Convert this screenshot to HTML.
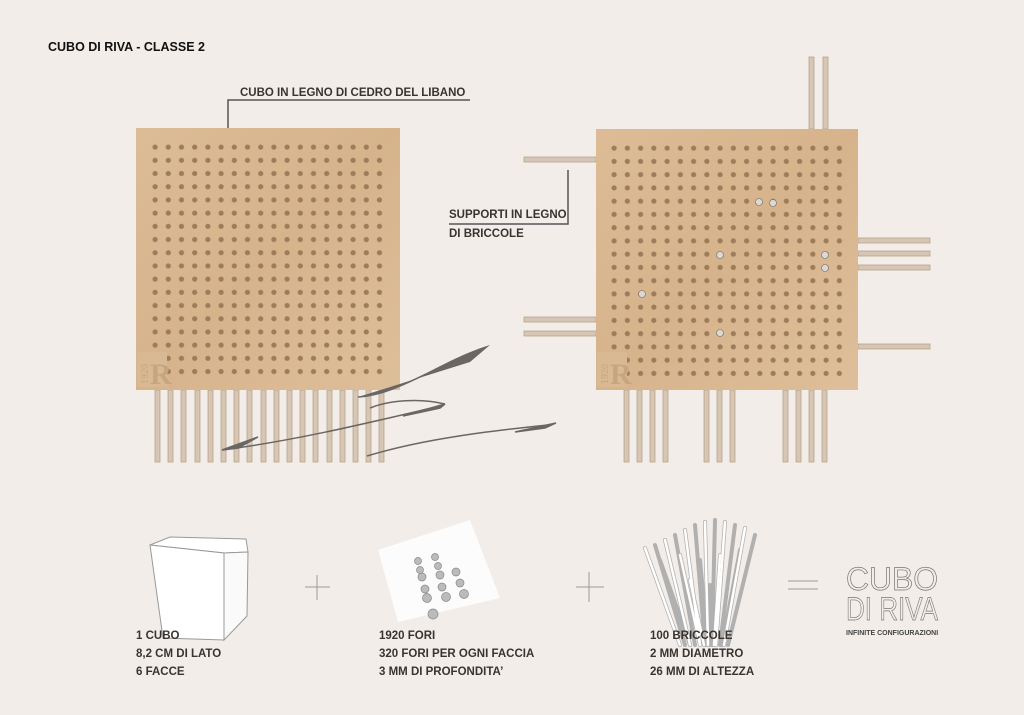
<!DOCTYPE html>
<html><head><meta charset="utf-8"><style>
body{margin:0;background:#f2ede8;}
svg{display:block;font-family:"Liberation Sans",sans-serif;}
.t{font-weight:bold;font-size:11.5px;fill:#3a3430;font-family:"Liberation Sans Narrow","Liberation Sans",sans-serif;}
</style></head><body>
<svg width="1024" height="715" viewBox="0 0 1024 715" xmlns="http://www.w3.org/2000/svg">
<defs>
<pattern id="holes" x="148.5" y="140.5" width="13.2" height="13.2" patternUnits="userSpaceOnUse">
<circle cx="6.6" cy="6.6" r="2.6" fill="#9c7c5a"/></pattern>
<pattern id="holes2" x="607.5" y="141.5" width="13.25" height="13.25" patternUnits="userSpaceOnUse">
<circle cx="6.6" cy="6.6" r="2.6" fill="#9c7c5a"/></pattern>
<linearGradient id="wood" x1="0" y1="0" x2="1" y2="1"><stop offset="0" stop-color="#dcbc96"/><stop offset="0.5" stop-color="#d6b38b"/><stop offset="1" stop-color="#debf9b"/></linearGradient>
</defs>
<rect width="1024" height="715" fill="#f2ede8"/>
<text x="48" y="51" style="font-size:12.5px;font-weight:bold" fill="#111">CUBO DI RIVA - CLASSE 2</text>

<g fill="#d6c6b3" stroke="#b8a48e" stroke-width="0.8">
<rect x="155" y="390" width="5" height="72"/><rect x="168" y="390" width="5" height="72"/><rect x="181" y="390" width="5" height="72"/><rect x="195" y="390" width="5" height="72"/><rect x="208" y="390" width="5" height="72"/><rect x="221" y="390" width="5" height="72"/><rect x="234" y="390" width="5" height="72"/><rect x="247" y="390" width="5" height="72"/><rect x="261" y="390" width="5" height="72"/><rect x="274" y="390" width="5" height="72"/><rect x="287" y="390" width="5" height="72"/><rect x="300" y="390" width="5" height="72"/><rect x="313" y="390" width="5" height="72"/><rect x="327" y="390" width="5" height="72"/><rect x="340" y="390" width="5" height="72"/><rect x="353" y="390" width="5" height="72"/><rect x="366" y="390" width="5" height="72"/><rect x="379" y="390" width="5" height="72"/>
</g>
<rect x="136" y="128" width="264" height="262" fill="url(#wood)"/>
<rect x="148.5" y="140.5" width="238" height="238" fill="url(#holes)"/>
<rect x="137" y="352" width="30" height="35" fill="#d9b993"/>
<text x="150" y="384" font-family="Liberation Serif" font-size="30" font-weight="bold" fill="#c7a67e">R</text>
<text x="148" y="384" font-family="Liberation Serif" font-size="10" fill="#c7a67e" transform="rotate(-90 148 384)">1920</text>

<g fill="#d6c6b3" stroke="#b8a48e" stroke-width="0.8">
<rect x="809" y="57" width="5" height="72"/><rect x="823" y="57" width="5" height="72"/>
<rect x="524" y="157" width="72" height="5"/><rect x="524" y="317" width="72" height="5"/><rect x="524" y="331" width="72" height="5"/>
<rect x="858" y="238" width="72" height="5"/><rect x="858" y="251" width="72" height="5"/><rect x="858" y="265" width="72" height="5"/><rect x="858" y="344" width="72" height="5"/>
<rect x="624" y="390" width="5" height="72"/><rect x="637" y="390" width="5" height="72"/><rect x="650" y="390" width="5" height="72"/><rect x="663" y="390" width="5" height="72"/>
<rect x="704" y="390" width="5" height="72"/><rect x="717" y="390" width="5" height="72"/><rect x="730" y="390" width="5" height="72"/>
<rect x="783" y="390" width="5" height="72"/><rect x="796" y="390" width="5" height="72"/><rect x="809" y="390" width="5" height="72"/><rect x="822" y="390" width="5" height="72"/>
</g>
<rect x="596" y="129" width="262" height="261" fill="url(#wood)"/>
<rect x="607.5" y="141.5" width="238.5" height="238.5" fill="url(#holes2)"/>
<rect x="597" y="352" width="30" height="35" fill="#d9b993"/>
<text x="610" y="384" font-family="Liberation Serif" font-size="30" font-weight="bold" fill="#c7a67e">R</text>
<text x="608" y="384" font-family="Liberation Serif" font-size="10" fill="#c7a67e" transform="rotate(-90 608 384)">1920</text>
<g fill="#dcd8d2" stroke="#6a6a6a" stroke-width="0.6">
<circle cx="759" cy="202" r="3.5"/><circle cx="773" cy="203" r="3.5"/><circle cx="720" cy="255" r="3.5"/><circle cx="825" cy="255" r="3.5"/><circle cx="825" cy="268" r="3.5"/><circle cx="642" cy="294" r="3.5"/><circle cx="720" cy="333" r="3.5"/>
</g>

<polyline points="228,128 228,100 470,100" fill="none" stroke="#555" stroke-width="1.5"/>
<text x="240" y="96" class="t">CUBO IN LEGNO DI CEDRO DEL LIBANO</text>
<polyline points="568,170 568,224 449,224" fill="none" stroke="#555" stroke-width="1.5"/>
<text x="449" y="218" class="t">SUPPORTI IN LEGNO</text>
<text x="449" y="237" class="t">DI BRICCOLE</text>

<g fill="#6a6663" stroke="#6a6663" stroke-width="1.5">
<path d="M358,397 C400,395 440,360 490,345 L470,362 Z" stroke="none"/>
<path d="M358,397 C400,395 440,360 475,357" fill="none"/>
<path d="M370,408 C390,400 420,398 445,404" fill="none"/>
<path d="M445,404 L403,416 L440,408 Z"/>
<path d="M440,406 C380,420 300,440 222,450" fill="none"/>
<path d="M222,450 L258,437 L238,448 Z"/>
<path d="M367,456 C420,440 480,432 548,425" fill="none"/>
<path d="M556,423 L515,432 L545,428 Z"/>
</g>

<g stroke="#999" stroke-width="1" fill="#fff">
<polygon points="150,545 170,537 246,539 248,552 224,553"/>
<polygon points="150,545 224,553 224,640 163,638"/>
<polygon points="224,553 248,552 247,616 224,640" fill="#fafafa"/>
</g>
<line x1="305" y1="587" x2="330" y2="587" stroke="#999"/><line x1="317" y1="575" x2="317" y2="600" stroke="#999"/>
<polygon points="378,550 470,520 500,598 398,622" fill="#fcfcfc"/>
<g fill="#bbb" stroke="#888" stroke-width="0.7">
<circle cx="418" cy="561" r="3.5"/><circle cx="435" cy="557" r="3.5"/><circle cx="420" cy="570" r="3.5"/><circle cx="438" cy="566" r="3.5"/><circle cx="422" cy="577" r="4"/><circle cx="440" cy="575" r="4"/><circle cx="456" cy="572" r="4"/><circle cx="425" cy="589" r="4"/><circle cx="442" cy="587" r="4"/><circle cx="460" cy="583" r="4"/><circle cx="427" cy="598" r="4.5"/><circle cx="446" cy="597" r="4.5"/><circle cx="464" cy="594" r="4.5"/><circle cx="433" cy="614" r="5"/>
</g>
<line x1="576" y1="587" x2="604" y2="587" stroke="#999"/><line x1="589" y1="572" x2="589" y2="602" stroke="#999"/>
<g stroke="#aaa" stroke-width="4" stroke-linecap="round" opacity="0.9">
<line x1="645" y1="548" x2="680" y2="645"/><line x1="655" y1="545" x2="685" y2="645"/><line x1="665" y1="540" x2="690" y2="645"/><line x1="675" y1="535" x2="695" y2="645"/><line x1="685" y1="530" x2="700" y2="645"/><line x1="695" y1="525" x2="705" y2="645"/><line x1="705" y1="522" x2="708" y2="645"/><line x1="715" y1="520" x2="712" y2="645"/><line x1="725" y1="522" x2="716" y2="645"/><line x1="735" y1="525" x2="720" y2="645"/><line x1="745" y1="528" x2="724" y2="645"/><line x1="755" y1="535" x2="728" y2="645"/><line x1="660" y1="560" x2="690" y2="645"/><line x1="680" y1="555" x2="700" y2="645"/><line x1="700" y1="560" x2="708" y2="645"/><line x1="720" y1="555" x2="714" y2="645"/><line x1="740" y1="550" x2="722" y2="645"/><line x1="690" y1="580" x2="704" y2="645"/><line x1="710" y1="585" x2="710" y2="645"/>
</g>
<g stroke="#fff" stroke-width="2.5" stroke-linecap="round">
<line x1="645" y1="548" x2="680" y2="645"/><line x1="665" y1="540" x2="690" y2="645"/><line x1="685" y1="530" x2="700" y2="645"/><line x1="705" y1="522" x2="708" y2="645"/><line x1="725" y1="522" x2="716" y2="645"/><line x1="745" y1="528" x2="724" y2="645"/><line x1="680" y1="555" x2="700" y2="645"/><line x1="720" y1="555" x2="714" y2="645"/><line x1="690" y1="580" x2="704" y2="645"/>
</g>
<line x1="788" y1="581" x2="818" y2="581" stroke="#999"/><line x1="788" y1="589" x2="818" y2="589" stroke="#999"/>
<text x="846" y="590" font-size="32" fill="none" stroke="#777" stroke-width="0.7" textLength="92" lengthAdjust="spacingAndGlyphs">CUBO</text>
<text x="846" y="620" font-size="32" fill="none" stroke="#777" stroke-width="0.7" textLength="92" lengthAdjust="spacingAndGlyphs">DI RIVA</text>
<text x="846" y="635" font-size="7" font-weight="bold" fill="#444">INFINITE CONFIGURAZIONI</text>

<g class="t">
<text x="136" y="639">1 CUBO</text><text x="136" y="657">8,2 CM DI LATO</text><text x="136" y="675">6 FACCE</text>
<text x="379" y="639">1920 FORI</text><text x="379" y="657">320 FORI PER OGNI FACCIA</text><text x="379" y="675">3 MM DI PROFONDITA’</text>
<text x="650" y="639">100 BRICCOLE</text><text x="650" y="657">2 MM DIAMETRO</text><text x="650" y="675">26 MM DI ALTEZZA</text>
</g>
</svg>
</body></html>
